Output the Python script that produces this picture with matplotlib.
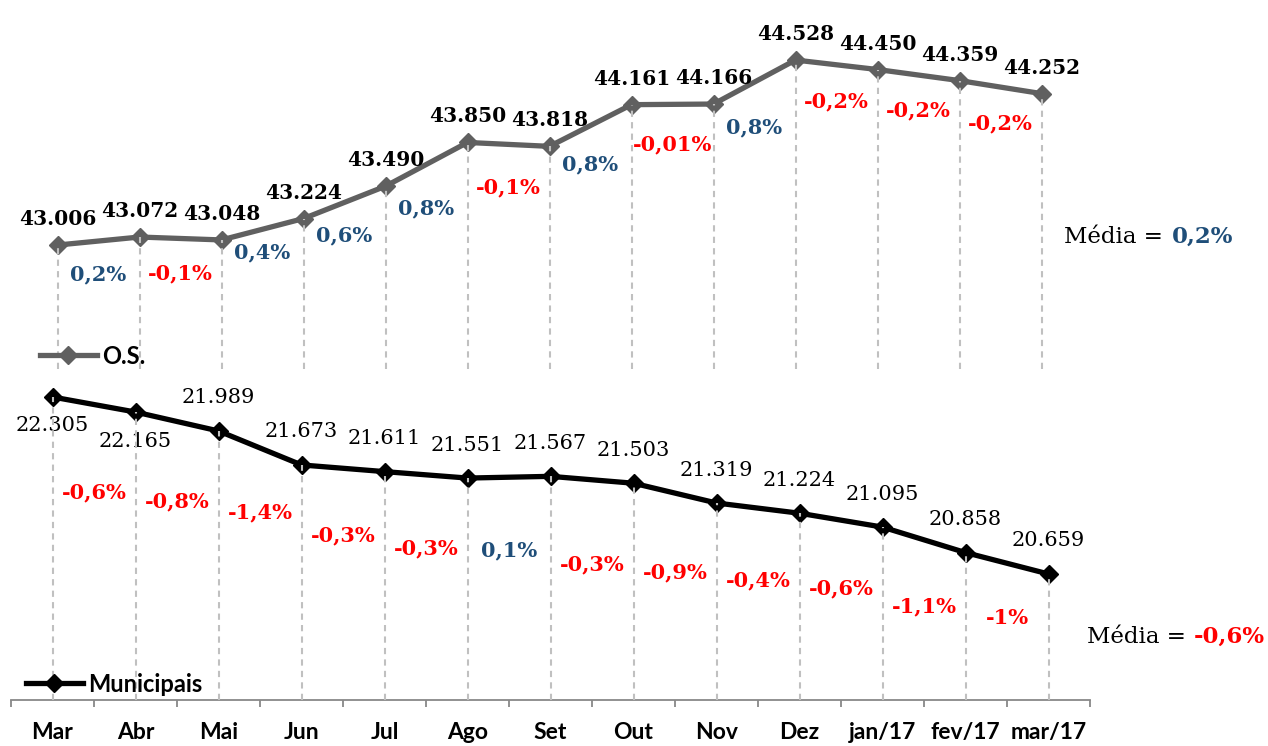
import numpy as np
import matplotlib.pyplot as plt

# --- Dados ---
meses = ["Mar", "Abr", "Mai", "Jun", "Jul", "Ago", "Set", "Out", "Nov", "Dez",
         "jan/17", "fev/17", "mar/17"]
os_vals = [43.006, 43.072, 43.048, 43.224, 43.490, 43.850, 43.818, 44.161,
           44.166, 44.528, 44.450, 44.359, 44.252]
mun_vals = [22.305, 22.165, 21.989, 21.673, 21.611, 21.551, 21.567, 21.503,
            21.319, 21.224, 21.095, 20.858, 20.659]
os_var = ["0,2%", "-0,1%", "0,4%", "0,6%", "0,8%", "-0,1%", "0,8%", "-0,01%",
          "0,8%", "-0,2%", "-0,2%", "-0,2%"]
mun_var = ["-0,6%", "-0,8%", "-1,4%", "-0,3%", "-0,3%", "0,1%", "-0,3%", "-0,9%",
           "-0,4%", "-0,6%", "-1,1%", "-1%"]
os_media = "0,2%"
mun_media = "-0,6%"

# deslocamentos (px) dos rotulos de variacao abaixo do meio do segmento
os_var_dy = [33, 35, 23, 33, 44, 43, 39, 40, 45, 37, 35, 36]
mun_var_dy = [88, 80, 64, 67, 74, 73, 85, 79, 72, 68, 67, 55]
mun_below = [True, True] + [False] * 11

AZUL = "#1f4e79"
VERM = "#ff0000"
CINZA_LINHA = "#606060"
CINZA_TRACO = "#c0c0c0"
SERIF = "DejaVu Serif"
SANS = "Lato"

W, H = 1268, 746
fig = plt.figure(figsize=(W / 100, H / 100), dpi=100)


def px_axes(x0, x1, y0, y1):
    # caixa em pixels (y a partir do topo)
    return fig.add_axes([x0 / W, 1 - y1 / H, (x1 - x0) / W, (y1 - y0) / H])


x = np.arange(len(meses))
ax1 = px_axes(16.5, 1082.5, 0, 370)
ax2 = px_axes(11, 1090, 370, 700)
ax1.set_xlim(-0.5, 12.5)
ax2.set_xlim(-0.5, 12.5)
ax1.set_ylim(41.978, 45.022)
ax2.set_ylim(19.487, 22.556)

for ax in (ax1, ax2):
    ax.patch.set_alpha(0)
    for s in ax.spines.values():
        s.set_visible(False)
    ax.set_yticks([])

ax1.set_xticks([])

# --- O.S. ---
ax1.vlines(x, 41.99, os_vals, colors=CINZA_TRACO, lw=1.5,
           linestyles=(0, (3, 2.5)), zorder=4)
ax1.plot(x, os_vals, color=CINZA_LINHA, lw=3.8, marker="D", ms=9,
         label="O.S.", zorder=3)
for xi, v in zip(x, os_vals):
    ax1.annotate(f"{v:.3f}", (xi, v), xytext=(0, 26), textcoords="offset pixels",
                 ha="center", va="center", fontsize=14.5, fontweight="bold",
                 family=SERIF, color="black")
for i, (lab, dy) in enumerate(zip(os_var, os_var_dy)):
    ym = (os_vals[i] + os_vals[i + 1]) / 2
    ax1.annotate(lab, (i + 0.5, ym), xytext=(0, -dy), textcoords="offset pixels",
                 ha="center", va="center", fontsize=15, fontweight="bold",
                 family=SERIF, color=VERM if lab.startswith("-") else AZUL)

# --- Municipais ---
ax2.vlines(x, 19.487, mun_vals, colors=CINZA_TRACO, lw=1.5,
           linestyles=(0, (3, 2.5)), zorder=4)
ax2.plot(x, mun_vals, color="black", lw=3.8, marker="D", ms=9,
         label="Municipais", zorder=3)
for xi, v, below in zip(x, mun_vals, mun_below):
    ax2.annotate(f"{v:.3f}", (xi, v), xytext=(0, -29 if below else 33),
                 textcoords="offset pixels", ha="center", va="center",
                 fontsize=15, family=SERIF, color="black")
for i, (lab, dy) in enumerate(zip(mun_var, mun_var_dy)):
    ym = (mun_vals[i] + mun_vals[i + 1]) / 2
    ax2.annotate(lab, (i + 0.5, ym), xytext=(0, -dy), textcoords="offset pixels",
                 ha="center", va="center", fontsize=15, fontweight="bold",
                 family=SERIF, color=VERM if lab.startswith("-") else AZUL)

# eixo x
ax2.spines["bottom"].set_visible(True)
ax2.spines["bottom"].set_color("#888888")
ax2.spines["bottom"].set_linewidth(1.3)
ax2.set_xticks(x)
ax2.set_xticklabels(meses, fontsize=16.5, fontweight="bold", family=SANS)
ax2.tick_params(axis="x", which="major", length=0, pad=16)
ax2.set_xticks(np.arange(-0.5, 13, 1), minor=True)
ax2.tick_params(axis="x", which="minor", length=5, width=1.3,
                color="#888888", direction="out")

# legendas
for ax, (lx, ly) in ((ax1, (40, 356)), (ax2, (26, 684))):
    ax.legend(loc="center left", bbox_to_anchor=(lx / W, 1 - ly / H),
              bbox_transform=fig.transFigure, frameon=False, borderpad=0,
              borderaxespad=0, handlelength=2.4, handletextpad=0.25,
              prop={"family": SANS, "weight": "bold", "size": 17})

# medias
fig.text(1163 / W, 1 - 237 / H, "Média =", ha="right", va="center",
         fontsize=16.5, family=SERIF)
fig.text(1172 / W, 1 - 237 / H, os_media, ha="left", va="center",
         fontsize=16.5, fontweight="bold", family=SERIF, color=AZUL)
fig.text(1186 / W, 1 - 637 / H, "Média =", ha="right", va="center",
         fontsize=16.5, family=SERIF)
fig.text(1194 / W, 1 - 637 / H, mun_media, ha="left", va="center",
         fontsize=16.5, fontweight="bold", family=SERIF, color=VERM)

fig.savefig("out.png", dpi=100)
